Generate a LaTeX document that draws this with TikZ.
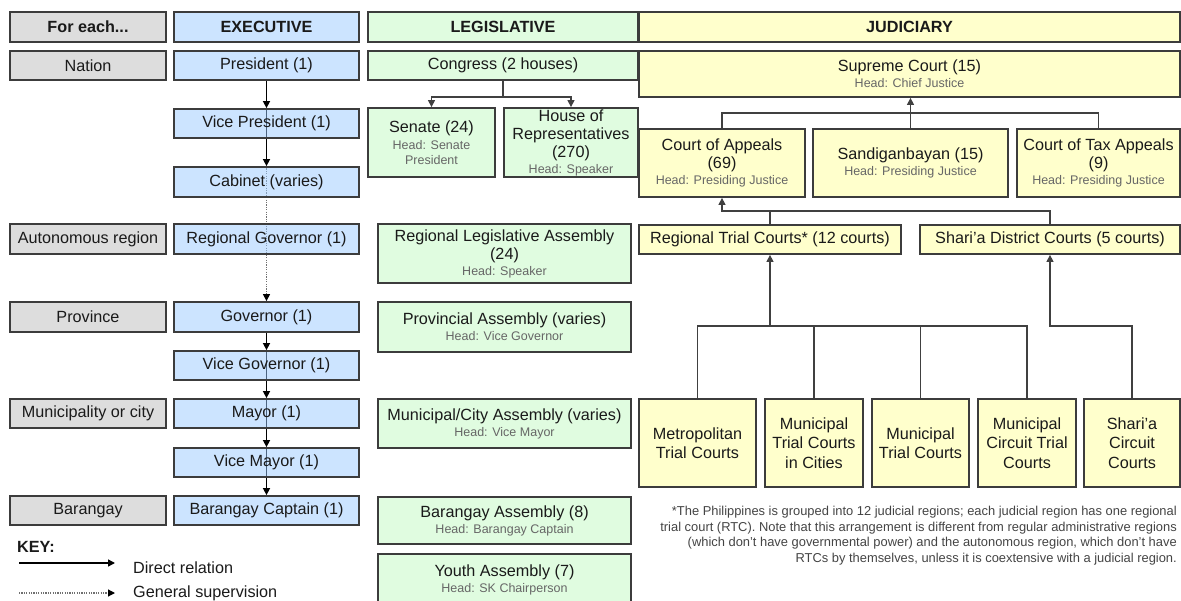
\documentclass[tikz,border=0pt]{standalone}
\usepackage{fontspec}
\setmainfont{Liberation Sans}
\usetikzlibrary{arrows.meta}
\definecolor{catfill}{HTML}{DDDDDD}
\definecolor{exefill}{HTML}{99C9FF}
\definecolor{legfill}{HTML}{E0FCE0}
\definecolor{judfill}{HTML}{FFFFCC}
\definecolor{boxline}{HTML}{3C3C3C}
\definecolor{txt}{HTML}{1A1A1A}
\definecolor{headc}{HTML}{666666}
\definecolor{connc}{HTML}{404040}
\definecolor{dotc}{HTML}{707070}
\definecolor{footc}{HTML}{444444}
\newcommand{\mainsz}{\fontsize{16.2}{18}\selectfont}
\newcommand{\headt}[1]{{\fontsize{12.5}{14}\selectfont\color{headc}#1}}
\pgfdeclarelayer{bg}
\pgfsetlayers{bg,main}
\tikzset{
  box/.style={draw=boxline, line width=1.8pt, inner sep=0pt, align=center,
    font=\mainsz, text=txt},
  cat/.style={box, fill=catfill},
  exe/.style={box, fill=exefill, fill opacity=0.5, text opacity=1},
  leg/.style={box, fill=legfill},
  jud/.style={box, fill=judfill},
  hdr/.style={font=\mainsz\bfseries},
  tip/.style={-{Triangle[length=7pt,width=7pt]}},
  dtip/.style={-{Triangle[length=7pt,width=7pt,color=black,fill=black]}},
  conn/.style={draw=connc, line width=1.3pt},
  exline/.style={draw=black, line width=1.5pt},
  dotline/.style={draw=dotc, line width=1.2pt, dash pattern=on 1.2pt off 1.2pt},
  court/.style={jud, font=\fontsize{16.2}{19.5}\selectfont},
}
\begin{document}
\begin{tikzpicture}[x=1pt,y=-1pt]
\useasboundingbox (0,0) rectangle (1181,601);
% headers
\node[cat, hdr, minimum width=156pt, minimum height=30pt] (each) at (88,27) {For each...};
\node[exe, hdr, minimum width=185pt, minimum height=30pt] (hexec) at (266.5,27) {EXECUTIVE};
\node[leg, hdr, minimum width=270pt, minimum height=30pt] (hleg) at (503,27) {LEGISLATIVE};
\node[jud, hdr, minimum width=541pt, minimum height=30pt] (hjud) at (909.5,27) {JUDICIARY};
% categories
\node[cat, minimum width=156pt, minimum height=29pt] (nation) at (88,65.5) {Nation};
\node[cat, minimum width=156pt, minimum height=30pt] (auto) at (88,239) {Autonomous region};
\node[cat, minimum width=156pt, minimum height=30pt] (prov) at (88,317) {Province};
\node[cat, minimum width=156pt, minimum height=29pt] (muni) at (88,413.5) {Municipality or city};
\node[cat, minimum width=156pt, minimum height=29pt] (bgy) at (88,510.5) {Barangay};
% executive
\node[exe, minimum width=185pt, minimum height=29pt] (pres) at (266.5,65.5) {President (1)};
\node[exe, minimum width=185pt, minimum height=29pt] (vp) at (266.5,123.5) {Vice President (1)};
\node[exe, minimum width=185pt, minimum height=30pt] (cab) at (266.5,182) {Cabinet (varies)};
\node[exe, minimum width=185pt, minimum height=30pt] (rgov) at (266.5,239) {Regional Governor (1)};
\node[exe, minimum width=185pt, minimum height=30pt] (gov) at (266.5,317) {Governor (1)};
\node[exe, minimum width=185pt, minimum height=29pt] (vgov) at (266.5,365.5) {Vice Governor (1)};
\node[exe, minimum width=185pt, minimum height=29pt] (mayor) at (266.5,413.5) {Mayor (1)};
\node[exe, minimum width=185pt, minimum height=29pt] (vmayor) at (266.5,462.5) {Vice Mayor (1)};
\node[exe, minimum width=185pt, minimum height=29pt] (capt) at (266.5,510.5) {Barangay Captain (1)};
% legislative
\node[leg, minimum width=270pt, minimum height=29pt] (congress) at (503,65.5) {Congress (2 houses)};
\node[leg, minimum width=127pt, minimum height=69pt] (senate) at (431.5,142.5) {Senate (24)\\[-1pt]\headt{Head: Senate}\\[-3pt]\headt{President}};
\node[leg, minimum width=134pt, minimum height=69pt] (house) at (571,142.5) {House of\\Representatives\\(270)\\[-2pt]\headt{Head: Speaker}};
\node[leg, minimum width=253pt, minimum height=59pt] (rla) at (504.5,253.5) {Regional Legislative Assembly\\(24)\\[-2pt]\headt{Head: Speaker}};
\node[leg, minimum width=253pt, minimum height=50pt] (pa) at (504.5,327) {Provincial Assembly (varies)\\[-2pt]\headt{Head: Vice Governor}};
\node[leg, minimum width=253pt, minimum height=49pt] (mca) at (504.5,423.5) {Municipal/City Assembly (varies)\\[-2pt]\headt{Head: Vice Mayor}};
\node[leg, minimum width=253pt, minimum height=47pt] (ba) at (504.5,520.5) {Barangay Assembly (8)\\[-2pt]\headt{Head: Barangay Captain}};
\node[leg, minimum width=253pt, minimum height=51pt] (ya) at (504.5,579.5) {Youth Assembly (7)\\[-2pt]\headt{Head: SK Chairperson}};
% judiciary
\node[jud, minimum width=541pt, minimum height=46pt] (sc) at (909.5,74) {Supreme Court (15)\\[-2pt]\headt{Head: Chief Justice}};
\node[jud, minimum width=166pt, minimum height=68pt] (coa) at (722,163) {Court of Appeals\\(69)\\[-2pt]\headt{Head: Presiding Justice}};
\node[jud, minimum width=195pt, minimum height=68pt] (sb) at (910.5,163) {Sandiganbayan (15)\\[-2pt]\headt{Head: Presiding Justice}};
\node[jud, minimum width=163pt, minimum height=68pt] (cta) at (1098.5,163) {Court of Tax Appeals\\(9)\\[-2pt]\headt{Head: Presiding Justice}};
\node[jud, minimum width=262pt, minimum height=29pt] (rtc) at (770,239.5) {Regional Trial Courts* (12 courts)};
\node[jud, minimum width=260pt, minimum height=29pt] (sdc) at (1050,239.5) {Shari’a District Courts (5 courts)};
\node[court, minimum width=117pt, minimum height=88pt] (metro) at (697.5,443) {Metropolitan\\Trial Courts};
\node[court, minimum width=98pt, minimum height=88pt] (mtcc) at (814,443) {Municipal\\Trial Courts\\in Cities};
\node[court, minimum width=97pt, minimum height=88pt] (mtc) at (920.5,443) {Municipal\\Trial Courts};
\node[court, minimum width=97.5pt, minimum height=88pt] (mctc) at (1027,443) {Municipal\\Circuit Trial\\Courts};
\node[court, minimum width=96pt, minimum height=88pt] (scc) at (1132,443) {Shari’a\\Circuit\\Courts};
% footnote
\node[anchor=north east, align=right, inner sep=0pt, text=footc,
  font=\fontsize{12.9}{15.7}\selectfont] (note) at (1177,506)
  {*The Philippines is grouped into 12 judicial regions; each judicial region has one regional\\
   trial court (RTC). Note that this arrangement is different from regular administrative regions\\
   (which don’t have governmental power) and the autonomous region, which don’t have\\
   RTCs by themselves, unless it is coextensive with a judicial region.};
% key
\node[anchor=west, inner sep=0pt, font=\mainsz\bfseries, text=txt] (keyt) at (17,547) {KEY:};
\coordinate (k1a) at (19,563);
\coordinate (k1b) at (115,563);
\coordinate (k2a) at (19,593);
\coordinate (k2b) at (115,593);
\draw[tip, exline] (k1a) -- (k1b);
\draw[dtip, dotline] (k2a) -- (k2b);
\node[anchor=west, inner sep=0pt, font=\mainsz, text=txt] (krel) at (133,568) {Direct relation};
\node[anchor=west, inner sep=0pt, font=\mainsz, text=txt] (ksup) at (133,593) {General supervision};
% connectors
\begin{pgfonlayer}{bg}
\draw[tip, exline] (pres.south) -- (vp.north);
\draw[tip, exline] (vp.north) -- (cab.north);
\draw[dtip, dotline] (cab.north) -- (gov.north);
\draw[tip, exline] (gov.south) -- (vgov.north);
\draw[tip, exline] (vgov.north) -- (mayor.north);
\draw[tip, exline] (mayor.north) -- (vmayor.north);
\draw[tip, exline] (vmayor.north) -- (capt.north);
\coordinate (lb) at (0,97);
\draw[tip, conn] (congress.south) |- (senate.north |- lb) -- (senate.north);
\draw[tip, conn] (congress.south) |- (house.north |- lb) -- (house.north);
\coordinate (jb1) at (0,113);
\draw[conn] (coa.north) |- (cta.north |- jb1) -- (cta.north);
\draw[tip, conn] (sb.north) -- (sb.north |- sc.south);
\coordinate (jb2) at (0,211);
\draw[conn] (rtc.north) -- (rtc.north |- jb2);
\draw[tip, conn] (sdc.north) |- (coa.south |- jb2) -- (coa.south);
\coordinate (jb3) at (0,326);
\draw[conn] (metro.north) |- (mctc.north |- jb3) -- (mctc.north);
\draw[conn] (mtcc.north) -- (mtcc.north |- jb3);
\draw[conn] (mtc.north) -- (mtc.north |- jb3);
\draw[tip, conn] (rtc.south |- jb3) -- (rtc.south);
\draw[tip, conn] (scc.north) |- (sdc.south |- jb3) -- (sdc.south);
\end{pgfonlayer}
\end{tikzpicture}
\end{document}
